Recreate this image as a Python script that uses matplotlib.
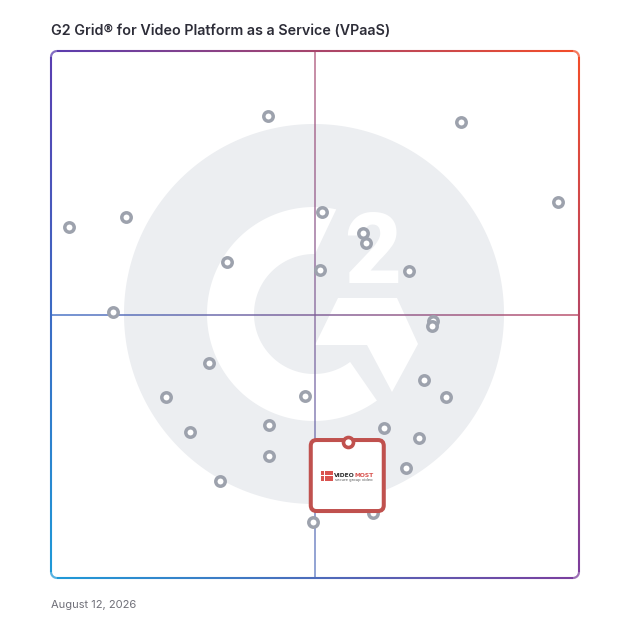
import numpy as np
import matplotlib
matplotlib.use('Agg')
import matplotlib.pyplot as plt
from matplotlib.collections import LineCollection
from matplotlib.patches import Polygon, FancyBboxPatch, Rectangle
from matplotlib.colors import to_rgb

# ---------------- data ----------------
title = "G2 Grid\u00ae for Video Platform as a Service (VPaaS)"
date_label = "August 12, 2026"

# other products (x = satisfaction, y = market presence, 0-100 scale)
prod_x = [41.1, 77.7, 96.0, 3.4, 14.2, 51.3, 59.1, 59.7, 33.3, 50.9,
          67.8, 11.7, 72.3, 72.2, 29.9, 70.6, 21.8, 48.1, 74.8, 26.3,
          41.3, 63.1, 69.7, 41.3, 67.2, 32.0, 49.6, 61.0]
prod_y = [87.7, 86.5, 71.3, 66.6, 68.5, 69.4, 65.5, 63.6, 60.0, 58.4,
          58.3, 50.5, 48.8, 47.8, 40.8, 37.6, 34.3, 34.5, 34.3, 27.7,
          29.0, 28.5, 26.6, 23.1, 20.9, 18.4, 10.6, 12.3]

# highlighted product
hl_name_a = "VIDEO"
hl_name_b = "MOST"
hl_tagline = "secure group video"
hl_x = 56.3
hl_y = 25.8

# ---------------- figure ----------------
W = H = 628
fig = plt.figure(figsize=(W / 100, H / 100), dpi=100)
L, R, T, B = 51, 579, 51, 578
ax = fig.add_axes([L / W, 1 - B / H, (R - L) / W, (B - T) / H])
ax.set_xlim(0, 100)
ax.set_ylim(0, 100)
ax.axis('off')

sx = 100 / (R - L)
sy = 100 / (B - T)


def px(x, y):
    x = np.asarray(x, float)
    y = np.asarray(y, float)
    return (x - L) * sx, (B - y) * sy


# ---------------- G2 watermark ----------------
cx, cy = 314, 314
th = np.linspace(0, 2 * np.pi, 400)
bx, by = px(cx + 190 * np.cos(th), cy - 190 * np.sin(th))
ax.add_patch(Polygon(np.column_stack([bx, by]), closed=True,
                     facecolor='#eceef1', edgecolor='none', zorder=1))

# G ring
to = np.radians(np.linspace(78, 306, 200))
ti = np.radians(np.linspace(307, 89, 200))
rx = np.concatenate([cx + 107 * np.cos(to), cx + 60 * np.cos(ti)])
ry = np.concatenate([cy - 107 * np.sin(to), cy - 60 * np.sin(ti)])
gx, gy = px(rx, ry)
ax.add_patch(Polygon(np.column_stack([gx, gy]), closed=True,
                     facecolor='white', edgecolor='none', zorder=2))
# chevron / crossbar
chev = np.array([(315, 345), (338, 298), (397, 298), (418, 344), (392, 392), (367, 345)])
chx, chy = px(chev[:, 0], chev[:, 1])
ax.add_patch(Polygon(np.column_stack([chx, chy]), closed=True,
                     facecolor='white', edgecolor='none', zorder=2))
# the "2"
tx, ty = px(372.5, 283)
ax.text(tx, ty, "2", fontsize=71, fontweight='heavy', family=['Roboto', 'DejaVu Sans'],
        color='white', ha='center', va='baseline', zorder=2)

# ---------------- gradient frame ----------------
c_tl = np.array(to_rgb('#5a3db0'))
c_tr = np.array(to_rgb('#f44d28'))
c_bl = np.array(to_rgb('#1e9ad8'))
c_br = np.array(to_rgb('#7b3e9e'))


def bilin(x, y):
    u = np.clip((x - L) / (R - L), 0, 1)[:, None]
    v = np.clip((y - T) / (B - T), 0, 1)[:, None]
    top = c_tl * (1 - u) + c_tr * u
    bot = c_bl * (1 - u) + c_br * u
    return top * (1 - v) + bot * v


def grad_line(xs, ys, lw, alpha=1.0, z=3):
    xs = np.asarray(xs, float)
    ys = np.asarray(ys, float)
    dx, dy = px(xs, ys)
    pts = np.column_stack([dx, dy])
    segs = np.stack([pts[:-1], pts[1:]], axis=1)
    mx = (xs[:-1] + xs[1:]) / 2
    my = (ys[:-1] + ys[1:]) / 2
    cols = np.column_stack([bilin(mx, my), np.full(len(mx), alpha)])
    lc = LineCollection(segs, colors=cols, linewidths=lw, capstyle='butt',
                        joinstyle='round', zorder=z, clip_on=False)
    ax.add_collection(lc)


r = 6
n = 120
pxs, pys = [], []
pxs += list(np.linspace(L + r, R - r, n)); pys += [T] * n
a = np.linspace(np.pi / 2, 0, 20)
pxs += list(R - r + r * np.cos(a)); pys += list(T + r - r * np.sin(a))
pxs += [R] * n; pys += list(np.linspace(T + r, B - r, n))
a = np.linspace(0, -np.pi / 2, 20)
pxs += list(R - r + r * np.cos(a)); pys += list(B - r - r * np.sin(a))
pxs += list(np.linspace(R - r, L + r, n)); pys += [B] * n
a = np.linspace(-np.pi / 2, -np.pi, 20)
pxs += list(L + r + r * np.cos(a)); pys += list(B - r - r * np.sin(a))
pxs += [L] * n; pys += list(np.linspace(B - r, T + r, n))
a = np.linspace(np.pi, np.pi / 2, 20)
pxs += list(L + r + r * np.cos(a)); pys += list(T + r - r * np.sin(a))
grad_line(pxs, pys, lw=1.5, z=3)

# quadrant dividers
mid_x = L + 50 / sx
mid_y = B - 50 / sy
grad_line(np.linspace(L, R, 200), np.full(200, mid_y), lw=1.2, alpha=0.85, z=3)
grad_line(np.full(200, mid_x), np.linspace(T, B, 200), lw=1.2, alpha=0.72, z=3)

# ---------------- products ----------------
ax.scatter(prod_x, prod_y, s=46, facecolor='white', edgecolor='#9da2ad',
           linewidths=2.5, zorder=5, clip_on=False)

# highlighted product card
hx_px = L + hl_x / sx
hy_px = B - hl_y / sy
bw, bh = 73, 71
bx0, by0 = px(hx_px - bw / 2 - 1, hy_px - 2 + bh)
bx1, by1 = px(hx_px + bw / 2 - 1, hy_px - 2)
card = FancyBboxPatch((bx0, by0), bx1 - bx0, by1 - by0,
                      boxstyle='round,pad=0,rounding_size=1.1',
                      facecolor='white', edgecolor='#c0514e', linewidth=2.9, zorder=6)
ax.add_patch(card)
ax.scatter([hl_x], [hl_y], s=52, facecolor='white', edgecolor='#c0514e',
           linewidths=2.6, zorder=8)

# logo icon: small grid of red blocks
icon_l = hx_px - 27.5
icon_t = hy_px + 29
cw, ch, gap = 3.6, 4.4, 0.7
for row in range(2):
    for col in range(3):
        x0p = icon_l + col * (cw + gap)
        y0p = icon_t + row * (ch + gap)
        rx0, ry0 = px(x0p, y0p + ch)
        rx1, ry1 = px(x0p + cw, y0p)
        ax.add_patch(Rectangle((rx0, ry0), rx1 - rx0, ry1 - ry0,
                               facecolor='#d9534f', edgecolor='none', zorder=7))
split_x, ty = px(hx_px + 6, hy_px + 34.5)
ax.text(split_x, ty, hl_name_a, fontsize=4.3, fontweight='bold', color='#2e2e2e',
        ha='right', va='baseline', zorder=7, family='DejaVu Sans')
ax.text(split_x, ty, hl_name_b, fontsize=4.3, fontweight='bold', color='#d9534f',
        ha='left', va='baseline', zorder=7, family='DejaVu Sans')
tx, ty = px(hx_px - 13.5, hy_px + 39)
ax.text(tx, ty, hl_tagline, fontsize=2.8, color='#555555', ha='left',
        va='baseline', zorder=7, family='DejaVu Sans')

# ---------------- texts ----------------
fig.text(51 / W, 1 - 35 / H, title, fontsize=10.3, fontweight='semibold',
         family=['Inter', 'DejaVu Sans'], color='#2d2d38', ha='left', va='baseline')
fig.text(51 / W, 1 - 607.5 / H, date_label, fontsize=8,
         family=['Inter', 'DejaVu Sans'], color='#6f6f78', ha='left', va='baseline')

fig.savefig('out.png', dpi=100, facecolor='white')
